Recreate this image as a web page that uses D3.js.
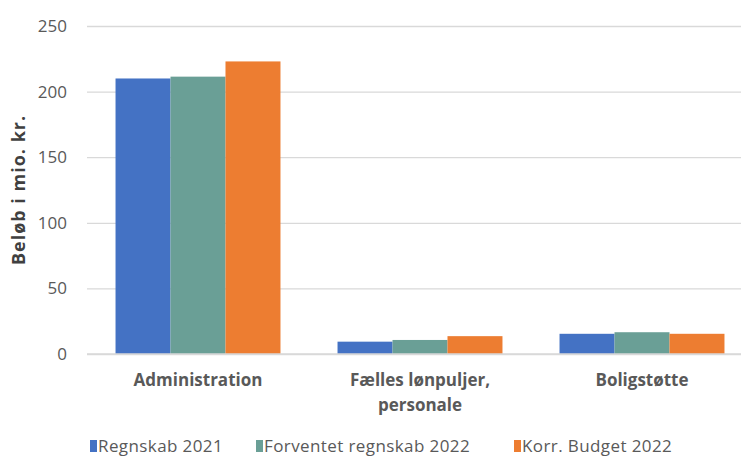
<!DOCTYPE html>
<html>
<head>
<meta charset="utf-8">
<script src="https://cdn.jsdelivr.net/npm/d3@7"></script>
<style>
  body { margin: 0; background: #fff; }
  text { font-family: "Open Sans", "Noto Sans", sans-serif; }
</style>
</head>
<body>
<div id="chart-area"></div>
<script>
// data
var categories = [["Administration"], ["Fælles lønpuljer,", "personale"], ["Boligstøtte"]]
var series = ["Regnskab 2021", "Forventet regnskab 2022", "Korr. Budget 2022"]
var regnskab2021 = [210, 9.4, 15.4]
var forventet2022 = [211.4, 10.7, 16.6]
var korrBudget2022 = [223, 13.6, 15.4]
var yTicks = [0, 50, 100, 150, 200, 250]

var colors = ["#4472C4", "#6A9F96", "#ED7D31"]
var values = [regnskab2021, forventet2022, korrBudget2022]

var cw = 741, ch = 458
var m = {l: 87, t: 26, r: -12, b: 104}
var w = cw - m.l - m.r
var h = ch - m.t - m.b

var svg = d3.select("#chart-area").append("svg")
    .attr("width", cw)
    .attr("height", ch)

var g = svg.append("g")
    .attr("transform", "translate(" + m.l + ", " + m.t + ")")

var keys = categories.map(d => d.join(" "))

var x = d3.scaleBand()
    .domain(keys)
    .range([0, w])
    .paddingInner(0.257)
    .paddingOuter(0.1285)

var x1 = d3.scaleBand()
    .domain(series)
    .range([0, x.bandwidth()])

var y = d3.scaleLinear()
    .domain([0, 250])
    .range([h, 0])

// gridlines
var leftAxis = d3.axisLeft(y)
    .tickValues(yTicks)
    .tickSize(-w)
    .tickPadding(20)

var yAx = g.append("g")
    .attr("class", "left axis")
    .call(leftAxis)
yAx.select(".domain").remove()
yAx.selectAll("line").attr("stroke", "#D9D9D9").attr("stroke-width", 1.3)
yAx.selectAll("text")
    .attr("fill", "#595959")
    .attr("font-size", "17px")
    .attr("font-family", "'Open Sans', sans-serif")

// bars
var rows = []
keys.forEach((k, i) => {
    series.forEach((s, j) => {
        rows.push({cat: k, s: s, v: values[j][i], c: colors[j]})
    })
})

g.selectAll("rect.bar")
    .data(rows).enter().append("rect")
        .attr("class", "bar")
        .attr("x", d => x(d.cat) + x1(d.s))
        .attr("y", d => y(d.v))
        .attr("width", x1.bandwidth())
        .attr("height", d => h - y(d.v))
        .attr("fill", d => d.c)

// baseline
g.append("line")
    .attr("x1", 0).attr("x2", w)
    .attr("y1", y(0)).attr("y2", y(0))
    .attr("stroke", "#D9D9D9")
    .attr("stroke-width", 1.3)

// category labels
categories.forEach((lines, i) => {
    var t = g.append("text")
        .attr("x", x(keys[i]) + x.bandwidth() / 2)
        .attr("y", h + 32)
        .attr("text-anchor", "middle")
        .attr("font-size", "17px")
        .attr("font-weight", "bold")
        .attr("fill", "#595959")
    lines.forEach((l, k) => {
        t.append("tspan")
            .attr("x", x(keys[i]) + x.bandwidth() / 2)
            .attr("dy", k === 0 ? 0 : 25)
            .text(l)
    })
})

// y axis title
svg.append("text")
    .attr("transform", "translate(25, 190) rotate(-90)")
    .attr("text-anchor", "middle")
    .attr("font-size", "18px")
    .attr("font-weight", "bold")
    .attr("letter-spacing", "1px")
    .attr("fill", "#404040")
    .text("Beløb i mio. kr.")

// legend
var legendX = [90, 256, 514]
var lg = svg.selectAll("g.legend")
    .data(series).enter().append("g")
        .attr("class", "legend")
        .attr("transform", (d, i) => "translate(" + legendX[i] + ", 440)")
lg.append("rect")
    .attr("y", 0)
    .attr("width", 7)
    .attr("height", 12)
    .attr("fill", (d, i) => colors[i])
lg.append("text")
    .attr("x", 8)
    .attr("y", 12)
    .attr("font-size", "17px")
    .attr("letter-spacing", "0.4px")
    .attr("fill", "#595959")
    .text(d => d)
</script>
</body>
</html>
